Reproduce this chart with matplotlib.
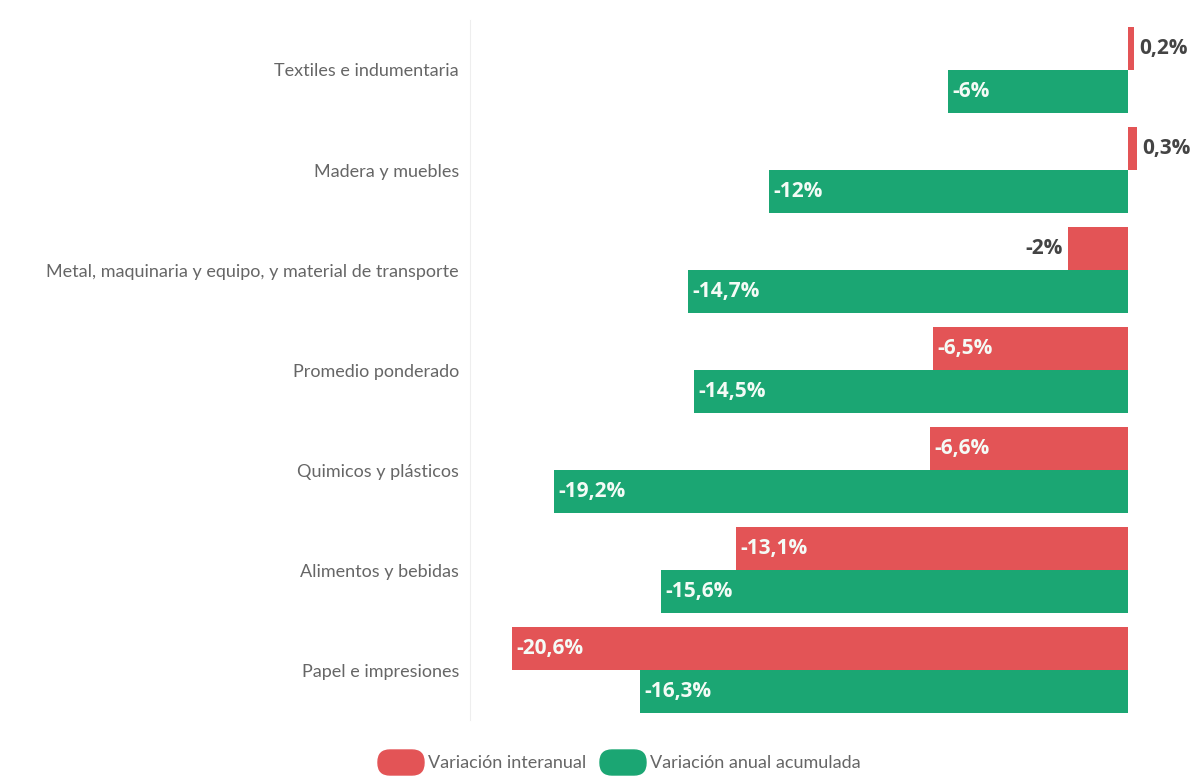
import matplotlib.pyplot as plt
import numpy as np
from matplotlib.patches import FancyBboxPatch
from matplotlib.transforms import IdentityTransform

plt.rcParams["font.family"] = ["Lato", "DejaVu Sans"]

categories = [
    "Textiles e indumentaria",
    "Madera y muebles",
    "Metal, maquinaria y equipo, y material de transporte",
    "Promedio ponderado",
    "Quimicos y plásticos",
    "Alimentos y bebidas",
    "Papel e impresiones",
]
interanual = [0.2, 0.3, -2, -6.5, -6.6, -13.1, -20.6]
acumulada = [-6, -12, -14.7, -14.5, -19.2, -15.6, -16.3]
series_names = ["Variación interanual", "Variación anual acumulada"]

RED = "#e35456"
GREEN = "#1ba673"

fig = plt.figure(figsize=(11.99, 7.76), dpi=100)
ax = fig.add_axes([470 / 1199, 1 - 720 / 776, 729 / 1199, 700 / 776])

y = np.arange(len(categories))
h = 0.43
ax.barh(y - h / 2, interanual, height=h, color=RED)
ax.barh(y + h / 2, acumulada, height=h, color=GREEN)


def fmt(v):
    return f"{v:g}".replace(".", ",") + "%"


def label(vals, offset):
    for yi, v in zip(y, vals):
        pos = yi + offset
        kw = dict(textcoords="offset points", va="center", fontsize=15,
                  fontweight="bold", family=["Open Sans", "DejaVu Sans"])
        if v >= 0:
            ax.annotate(fmt(v), (v, pos), xytext=(4, 0), ha="left", color="#444444", **kw)
        elif v > -4:
            ax.annotate(fmt(v), (v, pos), xytext=(-4, 0), ha="right", color="#444444", **kw)
        else:
            ax.annotate(fmt(v), (v, pos), xytext=(3, 0), ha="left", color="#f4fbf6", **kw)


label(interanual, -h / 2)
label(acumulada, h / 2)

ax.set_xlim(-22.0, 2.38)
ax.set_ylim(6.5, -0.5)
ax.set_yticks(y)
ax.set_yticklabels(categories, fontsize=13, color="#666666")
ax.tick_params(axis="y", length=0, pad=8)
ax.set_xticks([])
for s in ["top", "right", "bottom"]:
    ax.spines[s].set_visible(False)
ax.spines["left"].set_color("#eeeeee")

# legend at the bottom (pixel coordinates)
for x0, col, name in [(378, RED, series_names[0]), (600, GREEN, series_names[1])]:
    p = FancyBboxPatch((x0, 1), 46, 25, boxstyle="round,pad=0,rounding_size=12",
                       transform=IdentityTransform(), color=col)
    fig.patches.append(p)
    fig.text((x0 + 50) / 1199, 1 - 763 / 776, name, fontsize=13, color="#666666",
             ha="left", va="center")

fig.savefig("out.png", dpi=100, facecolor="white")
